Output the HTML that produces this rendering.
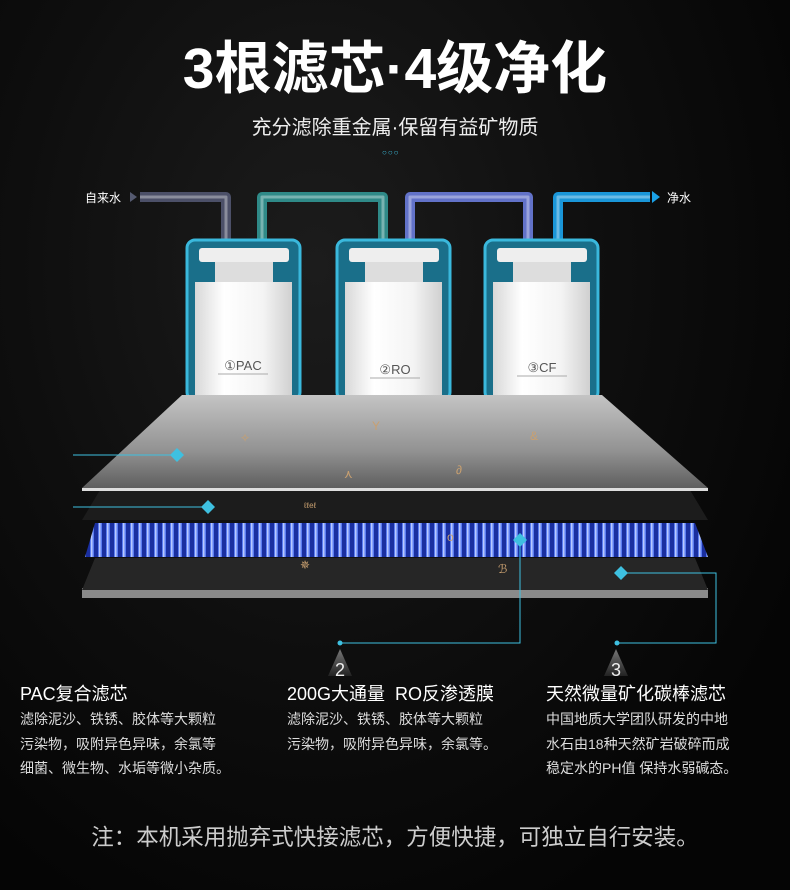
<!DOCTYPE html>
<html><head><meta charset="utf-8"><style>
body{margin:0;width:790px;height:890px;overflow:hidden;background:#070707;font-family:"Liberation Sans","Noto Sans CJK SC",sans-serif;color:#fff;position:relative}
.bg{position:absolute;inset:0;background:radial-gradient(ellipse at 40% 30%,#1c1c1c 0,#0e0e0e 45%,#050505 80%),#000}
.t{position:absolute;white-space:nowrap}
</style></head><body>
<div class="bg"></div>
<svg width="790" height="890" style="position:absolute;left:0;top:0">
<defs>
<linearGradient id="p1" x1="0" y1="0" x2="0" y2="1"><stop offset="0" stop-color="#c4c4c4"/><stop offset="0.6" stop-color="#929292"/><stop offset="1" stop-color="#5e5e5e"/></linearGradient>
<linearGradient id="cb" x1="0" y1="0" x2="1" y2="0"><stop offset="0" stop-color="#d8d8d8"/><stop offset="0.3" stop-color="#fff"/><stop offset="0.7" stop-color="#f4f4f4"/><stop offset="1" stop-color="#d0d0d0"/></linearGradient>
<pattern id="st" width="8" height="34" patternUnits="userSpaceOnUse"><rect width="8" height="34" fill="#1a2fa0"/><rect x="2" width="4" height="34" fill="#5a7cf0"/><rect x="3" width="1.5" height="34" fill="#b8c8ff"/></pattern>
</defs>
<g fill="none" stroke-width="10" stroke-linejoin="round">
<path d="M140 197 H226 V245" stroke="#4c5068"/>
<path d="M262 250 V197 H383 V250" stroke="#2f8a88"/>
<path d="M410 250 V197 H528 V250" stroke="#6272c8"/>
<path d="M558 250 V197 H650" stroke="#1a96d8"/>
</g>
<g fill="none" stroke-width="3" stroke-linejoin="round" opacity="0.35" stroke="#fff">
<path d="M140 197 H226 V245"/><path d="M262 250 V197 H383 V250"/><path d="M410 250 V197 H528 V250"/><path d="M558 250 V197 H650"/>
</g>
<polygon points="130,192 137,197 130,202" fill="#555a70"/>
<polygon points="652,191 660,197 652,203" fill="#1aa0e6"/>
<g>
<g transform="translate(187,240)">
<rect x="0" y="0" width="113" height="160" rx="8" fill="#1a6f8a" stroke="#3ab8dc" stroke-width="3"/>
<rect x="12" y="8" width="90" height="14" rx="3" fill="#eee"/>
<rect x="28" y="22" width="58" height="20" fill="#ddd"/>
<rect x="8" y="42" width="97" height="118" fill="url(#cb)"/>
</g>
<g transform="translate(337,240)">
<rect x="0" y="0" width="113" height="160" rx="8" fill="#1a6f8a" stroke="#3ab8dc" stroke-width="3"/>
<rect x="12" y="8" width="90" height="14" rx="3" fill="#eee"/>
<rect x="28" y="22" width="58" height="20" fill="#ddd"/>
<rect x="8" y="42" width="97" height="118" fill="url(#cb)"/>
</g>
<g transform="translate(485,240)">
<rect x="0" y="0" width="113" height="160" rx="8" fill="#1a6f8a" stroke="#3ab8dc" stroke-width="3"/>
<rect x="12" y="8" width="90" height="14" rx="3" fill="#eee"/>
<rect x="28" y="22" width="58" height="20" fill="#ddd"/>
<rect x="8" y="42" width="97" height="118" fill="url(#cb)"/>
</g>
</g>
<text x="243" y="370" font-size="13" fill="#555" text-anchor="middle" font-family="Liberation Sans">①PAC</text>
<text x="395" y="374" font-size="13" fill="#555" text-anchor="middle" font-family="Liberation Sans">②RO</text>
<text x="542" y="372" font-size="13" fill="#555" text-anchor="middle" font-family="Liberation Sans">③CF</text>
<g stroke="#aaa" stroke-width="1"><line x1="218" y1="374" x2="268" y2="374"/><line x1="370" y1="378" x2="420" y2="378"/><line x1="517" y1="376" x2="567" y2="376"/></g>
<polygon points="82,598 708,598 708,588 82,588" fill="#8a8a8a"/>
<polygon points="95,558 695,558 708,590 82,590" fill="#262626"/>
<polygon points="95,523 695,523 708,557 85,557" fill="url(#st)"/>
<polygon points="100,490 690,490 708,520 82,520" fill="#1c1c1c"/>
<polygon points="182,395 602,395 708,488 82,488" fill="url(#p1)"/>
<polygon points="82,488 708,488 708,491 82,491" fill="#ddd"/>
<g stroke="#3ec0e0" stroke-width="1" fill="none">
<line x1="73" y1="455" x2="177" y2="455"/>
<line x1="73" y1="507" x2="208" y2="507"/>
<polyline points="520,540 520,643 340,643"/>
<polyline points="621,573 716,573 716,643 617,643"/>
</g>
<g fill="#3ec0e0">
<polygon points="177,448 184,455 177,462 170,455"/>
<polygon points="208,500 215,507 208,514 201,507"/>
<polygon points="520,533 527,540 520,547 513,540"/>
<polygon points="621,566 628,573 621,580 614,573"/>
<circle cx="340" cy="643" r="2.5"/><circle cx="617" cy="643" r="2.5"/>
</g>
<defs><linearGradient id="tr" x1="0" y1="0" x2="0" y2="1"><stop offset="0" stop-color="#777"/><stop offset="1" stop-color="#222"/></linearGradient></defs>
<polygon points="340,649 352,676 328,676" fill="url(#tr)"/>
<polygon points="616,649 628,676 604,676" fill="url(#tr)"/>
<text x="340" y="676" font-size="18" fill="#eee" text-anchor="middle">2</text>
<text x="616" y="676" font-size="18" fill="#eee" text-anchor="middle">3</text>
<g fill="#c9a070" font-size="12"><text x="240" y="442">✧</text><text x="372" y="430">Y</text><text x="530" y="440">&amp;</text><text x="344" y="478">⋏</text><text x="456" y="474">∂</text><text x="304" y="508" font-size="8">ℓℓeℓ</text><text x="447" y="541">o</text><text x="300" y="569">✵</text><text x="498" y="573">ℬ</text></g>
</svg>
<div class="t" style="left:0;width:790px;text-align:center;top:36px;font-size:57px;font-weight:bold;line-height:66px">3根滤芯·4级净化</div>
<div class="t" style="left:0;width:790px;text-align:center;top:114px;font-size:20px;line-height:28px;color:#eee">充分滤除重金属·保留有益矿物质</div>
<div class="t" style="left:382px;top:148px;font-size:8px;color:#3ec0e0;letter-spacing:1px">○○○</div>
<div class="t" style="left:85px;top:189px;font-size:12px">自来水</div>
<div class="t" style="left:667px;top:189px;font-size:12px">净水</div>
<div class="t" style="left:20px;top:682px;font-size:18px;line-height:24px">PAC复合滤芯</div>
<div class="t" style="left:20px;top:707px;font-size:14px;line-height:24.5px;color:#ddd">滤除泥沙、铁锈、胶体等大颗粒<br>污染物，吸附异色异味，余氯等<br>细菌、微生物、水垢等微小杂质。</div>
<div class="t" style="left:287px;top:682px;font-size:18px;line-height:24px">200G大通量&nbsp; RO反渗透膜</div>
<div class="t" style="left:287px;top:707px;font-size:14px;line-height:24.5px;color:#ddd">滤除泥沙、铁锈、胶体等大颗粒<br>污染物，吸附异色异味，余氯等。</div>
<div class="t" style="left:546px;top:682px;font-size:18px;line-height:24px">天然微量矿化碳棒滤芯</div>
<div class="t" style="left:546px;top:707px;font-size:14px;line-height:24.5px;color:#ddd">中国地质大学团队研发的中地<br>水石由18种天然矿岩破碎而成<br>稳定水的PH值 保持水弱碱态。</div>
<div class="t" style="left:0;width:790px;text-align:center;top:822px;font-size:22.5px;line-height:32px;color:#ccc">注：本机采用抛弃式快接滤芯，方便快捷，可独立自行安装。</div>
</body></html>
